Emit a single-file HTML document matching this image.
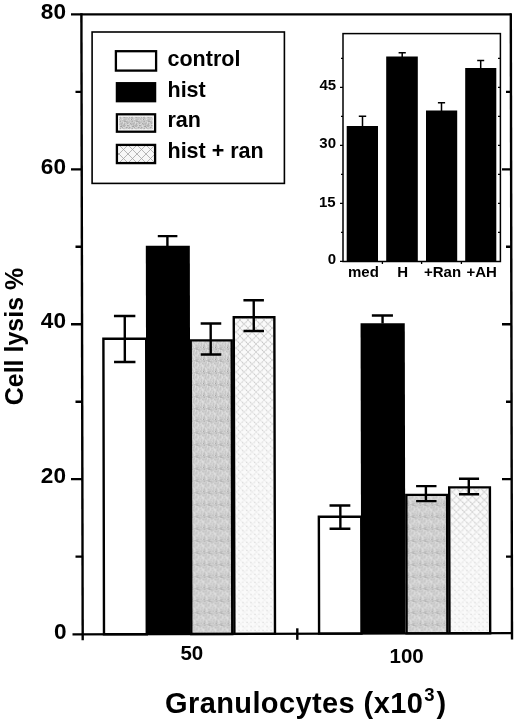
<!DOCTYPE html>
<html>
<head>
<meta charset="utf-8">
<style>
html,body{margin:0;padding:0;background:#fff;}
body{width:520px;height:726px;overflow:hidden;}
svg{display:block;filter:blur(0.35px);}
text{font-family:"Liberation Sans",sans-serif;font-weight:bold;fill:#000;}
</style>
</head>
<body>
<svg width="520" height="726" viewBox="0 0 520 726">
<defs>
  <pattern id="hatch" patternUnits="userSpaceOnUse" width="8" height="8">
    <rect width="8" height="8" fill="#fafafa"/>
    <rect x="2" y="2" width="1" height="1" fill="#cfcfcf"/>
    <rect x="6" y="6" width="1" height="1" fill="#cfcfcf"/>
    <rect x="6" y="2" width="1" height="1" fill="#e2e2e2"/>
    <rect x="2" y="6" width="1" height="1" fill="#e2e2e2"/>
  </pattern>
  <pattern id="xh" patternUnits="userSpaceOnUse" width="8" height="8">
    <path d="M0,8 L8,0 M0,0 L8,8" stroke="#b8b8b8" stroke-width="0.7"/>
  </pattern>
  <pattern id="xh2" patternUnits="userSpaceOnUse" width="9" height="9" x="2" y="1">
    <rect width="9" height="9" fill="#f7f7f7"/>
    <path d="M0,9 L9,0 M0,0 L9,9" stroke="#a4a4a4" stroke-width="0.8"/>
  </pattern>
  <linearGradient id="fadeG" x1="0" y1="0" x2="0" y2="1">
    <stop offset="0" stop-color="#fff"/>
    <stop offset="0.45" stop-color="#555"/>
    <stop offset="1" stop-color="#222"/>
  </linearGradient>
  <mask id="fade" maskContentUnits="objectBoundingBox"><rect width="1" height="1" fill="url(#fadeG)"/></mask>
  <pattern id="gray" patternUnits="userSpaceOnUse" width="12" height="12"><rect x="0" y="0" width="1" height="1" fill="#c1c1c1"/><rect x="1" y="0" width="1" height="1" fill="#cccccc"/><rect x="2" y="0" width="1" height="1" fill="#c1c1c1"/><rect x="3" y="0" width="1" height="1" fill="#c0c0c0"/><rect x="4" y="0" width="1" height="1" fill="#b7b7b7"/><rect x="5" y="0" width="1" height="1" fill="#c1c1c1"/><rect x="6" y="0" width="1" height="1" fill="#d5d5d5"/><rect x="7" y="0" width="1" height="1" fill="#cbcbcb"/><rect x="8" y="0" width="1" height="1" fill="#d4d4d4"/><rect x="9" y="0" width="1" height="1" fill="#c8c8c8"/><rect x="10" y="0" width="1" height="1" fill="#cacaca"/><rect x="11" y="0" width="1" height="1" fill="#c7c7c7"/><rect x="0" y="1" width="1" height="1" fill="#acacac"/><rect x="1" y="1" width="1" height="1" fill="#d1d1d1"/><rect x="2" y="1" width="1" height="1" fill="#cccccc"/><rect x="3" y="1" width="1" height="1" fill="#cccccc"/><rect x="4" y="1" width="1" height="1" fill="#ababab"/><rect x="5" y="1" width="1" height="1" fill="#aaaaaa"/><rect x="6" y="1" width="1" height="1" fill="#b7b7b7"/><rect x="7" y="1" width="1" height="1" fill="#bdbdbd"/><rect x="8" y="1" width="1" height="1" fill="#c9c9c9"/><rect x="9" y="1" width="1" height="1" fill="#c4c4c4"/><rect x="10" y="1" width="1" height="1" fill="#cccccc"/><rect x="11" y="1" width="1" height="1" fill="#bbbbbb"/><rect x="0" y="2" width="1" height="1" fill="#c9c9c9"/><rect x="1" y="2" width="1" height="1" fill="#cacaca"/><rect x="2" y="2" width="1" height="1" fill="#bbbbbb"/><rect x="3" y="2" width="1" height="1" fill="#dedede"/><rect x="4" y="2" width="1" height="1" fill="#cdcdcd"/><rect x="5" y="2" width="1" height="1" fill="#d6d6d6"/><rect x="6" y="2" width="1" height="1" fill="#bbbbbb"/><rect x="7" y="2" width="1" height="1" fill="#b9b9b9"/><rect x="8" y="2" width="1" height="1" fill="#bfbfbf"/><rect x="9" y="2" width="1" height="1" fill="#c3c3c3"/><rect x="10" y="2" width="1" height="1" fill="#cecece"/><rect x="11" y="2" width="1" height="1" fill="#c8c8c8"/><rect x="0" y="3" width="1" height="1" fill="#bebebe"/><rect x="1" y="3" width="1" height="1" fill="#b6b6b6"/><rect x="2" y="3" width="1" height="1" fill="#bdbdbd"/><rect x="3" y="3" width="1" height="1" fill="#d7d7d7"/><rect x="4" y="3" width="1" height="1" fill="#b8b8b8"/><rect x="5" y="3" width="1" height="1" fill="#c8c8c8"/><rect x="6" y="3" width="1" height="1" fill="#cbcbcb"/><rect x="7" y="3" width="1" height="1" fill="#aeaeae"/><rect x="8" y="3" width="1" height="1" fill="#c5c5c5"/><rect x="9" y="3" width="1" height="1" fill="#d8d8d8"/><rect x="10" y="3" width="1" height="1" fill="#a6a6a6"/><rect x="11" y="3" width="1" height="1" fill="#c0c0c0"/><rect x="0" y="4" width="1" height="1" fill="#c3c3c3"/><rect x="1" y="4" width="1" height="1" fill="#b8b8b8"/><rect x="2" y="4" width="1" height="1" fill="#cccccc"/><rect x="3" y="4" width="1" height="1" fill="#c4c4c4"/><rect x="4" y="4" width="1" height="1" fill="#afafaf"/><rect x="5" y="4" width="1" height="1" fill="#d1d1d1"/><rect x="6" y="4" width="1" height="1" fill="#cfcfcf"/><rect x="7" y="4" width="1" height="1" fill="#d3d3d3"/><rect x="8" y="4" width="1" height="1" fill="#dadada"/><rect x="9" y="4" width="1" height="1" fill="#cacaca"/><rect x="10" y="4" width="1" height="1" fill="#c6c6c6"/><rect x="11" y="4" width="1" height="1" fill="#b1b1b1"/><rect x="0" y="5" width="1" height="1" fill="#cecece"/><rect x="1" y="5" width="1" height="1" fill="#bbbbbb"/><rect x="2" y="5" width="1" height="1" fill="#bebebe"/><rect x="3" y="5" width="1" height="1" fill="#b2b2b2"/><rect x="4" y="5" width="1" height="1" fill="#b6b6b6"/><rect x="5" y="5" width="1" height="1" fill="#bdbdbd"/><rect x="6" y="5" width="1" height="1" fill="#d8d8d8"/><rect x="7" y="5" width="1" height="1" fill="#a6a6a6"/><rect x="8" y="5" width="1" height="1" fill="#afafaf"/><rect x="9" y="5" width="1" height="1" fill="#c8c8c8"/><rect x="10" y="5" width="1" height="1" fill="#dadada"/><rect x="11" y="5" width="1" height="1" fill="#cdcdcd"/><rect x="0" y="6" width="1" height="1" fill="#a8a8a8"/><rect x="1" y="6" width="1" height="1" fill="#9f9f9f"/><rect x="2" y="6" width="1" height="1" fill="#cacaca"/><rect x="3" y="6" width="1" height="1" fill="#b9b9b9"/><rect x="4" y="6" width="1" height="1" fill="#b4b4b4"/><rect x="5" y="6" width="1" height="1" fill="#d3d3d3"/><rect x="6" y="6" width="1" height="1" fill="#d5d5d5"/><rect x="7" y="6" width="1" height="1" fill="#c7c7c7"/><rect x="8" y="6" width="1" height="1" fill="#c8c8c8"/><rect x="9" y="6" width="1" height="1" fill="#cbcbcb"/><rect x="10" y="6" width="1" height="1" fill="#dcdcdc"/><rect x="11" y="6" width="1" height="1" fill="#cecece"/><rect x="0" y="7" width="1" height="1" fill="#cccccc"/><rect x="1" y="7" width="1" height="1" fill="#cdcdcd"/><rect x="2" y="7" width="1" height="1" fill="#adadad"/><rect x="3" y="7" width="1" height="1" fill="#d8d8d8"/><rect x="4" y="7" width="1" height="1" fill="#d3d3d3"/><rect x="5" y="7" width="1" height="1" fill="#cccccc"/><rect x="6" y="7" width="1" height="1" fill="#a7a7a7"/><rect x="7" y="7" width="1" height="1" fill="#bbbbbb"/><rect x="8" y="7" width="1" height="1" fill="#d1d1d1"/><rect x="9" y="7" width="1" height="1" fill="#a9a9a9"/><rect x="10" y="7" width="1" height="1" fill="#c2c2c2"/><rect x="11" y="7" width="1" height="1" fill="#d4d4d4"/><rect x="0" y="8" width="1" height="1" fill="#b1b1b1"/><rect x="1" y="8" width="1" height="1" fill="#dddddd"/><rect x="2" y="8" width="1" height="1" fill="#cdcdcd"/><rect x="3" y="8" width="1" height="1" fill="#c2c2c2"/><rect x="4" y="8" width="1" height="1" fill="#c9c9c9"/><rect x="5" y="8" width="1" height="1" fill="#cecece"/><rect x="6" y="8" width="1" height="1" fill="#c6c6c6"/><rect x="7" y="8" width="1" height="1" fill="#d6d6d6"/><rect x="8" y="8" width="1" height="1" fill="#bbbbbb"/><rect x="9" y="8" width="1" height="1" fill="#bebebe"/><rect x="10" y="8" width="1" height="1" fill="#d4d4d4"/><rect x="11" y="8" width="1" height="1" fill="#c5c5c5"/><rect x="0" y="9" width="1" height="1" fill="#b7b7b7"/><rect x="1" y="9" width="1" height="1" fill="#d3d3d3"/><rect x="2" y="9" width="1" height="1" fill="#dadada"/><rect x="3" y="9" width="1" height="1" fill="#bebebe"/><rect x="4" y="9" width="1" height="1" fill="#b0b0b0"/><rect x="5" y="9" width="1" height="1" fill="#c2c2c2"/><rect x="6" y="9" width="1" height="1" fill="#c2c2c2"/><rect x="7" y="9" width="1" height="1" fill="#c0c0c0"/><rect x="8" y="9" width="1" height="1" fill="#dadada"/><rect x="9" y="9" width="1" height="1" fill="#b5b5b5"/><rect x="10" y="9" width="1" height="1" fill="#d7d7d7"/><rect x="11" y="9" width="1" height="1" fill="#b1b1b1"/><rect x="0" y="10" width="1" height="1" fill="#b9b9b9"/><rect x="1" y="10" width="1" height="1" fill="#cecece"/><rect x="2" y="10" width="1" height="1" fill="#d5d5d5"/><rect x="3" y="10" width="1" height="1" fill="#d1d1d1"/><rect x="4" y="10" width="1" height="1" fill="#cacaca"/><rect x="5" y="10" width="1" height="1" fill="#c7c7c7"/><rect x="6" y="10" width="1" height="1" fill="#c7c7c7"/><rect x="7" y="10" width="1" height="1" fill="#cdcdcd"/><rect x="8" y="10" width="1" height="1" fill="#c2c2c2"/><rect x="9" y="10" width="1" height="1" fill="#c9c9c9"/><rect x="10" y="10" width="1" height="1" fill="#cdcdcd"/><rect x="11" y="10" width="1" height="1" fill="#c5c5c5"/><rect x="0" y="11" width="1" height="1" fill="#d0d0d0"/><rect x="1" y="11" width="1" height="1" fill="#cdcdcd"/><rect x="2" y="11" width="1" height="1" fill="#e3e3e3"/><rect x="3" y="11" width="1" height="1" fill="#c9c9c9"/><rect x="4" y="11" width="1" height="1" fill="#bebebe"/><rect x="5" y="11" width="1" height="1" fill="#bfbfbf"/><rect x="6" y="11" width="1" height="1" fill="#c4c4c4"/><rect x="7" y="11" width="1" height="1" fill="#d2d2d2"/><rect x="8" y="11" width="1" height="1" fill="#bfbfbf"/><rect x="9" y="11" width="1" height="1" fill="#cacaca"/><rect x="10" y="11" width="1" height="1" fill="#e0e0e0"/><rect x="11" y="11" width="1" height="1" fill="#9e9e9e"/></pattern>
</defs>

<!-- ===== MAIN CHART ===== -->
<g stroke="#000" stroke-width="2.4" fill="none">
  <g transform="matrix(1 0 0.002 1 -0.68 0)">
  <!-- bars group 50 -->
  <rect x="103.4" y="338.8" width="42.8" height="295.5" fill="#fff"/>
  <rect x="146" y="245.8" width="44" height="388.4" fill="#000" stroke="none"/>
  <rect x="190.7" y="340.4" width="41" height="293.6" fill="url(#gray)"/>
  <rect x="233.8" y="317.2" width="40.6" height="316.7" fill="url(#hatch)"/>
  <rect x="235" y="318.4" width="38.2" height="314.3" fill="url(#xh)" stroke="none" mask="url(#fade)"/>
  <!-- bars group 100 -->
  <rect x="318.5" y="516.8" width="42.4" height="116.8" fill="#fff"/>
  <rect x="360.6" y="323.2" width="44.2" height="310.3" fill="#000" stroke="none"/>
  <rect x="406" y="494.9" width="40.8" height="138.5" fill="url(#gray)"/>
  <rect x="448.9" y="487.4" width="40.7" height="145.9" fill="url(#hatch)"/>
  <rect x="450.1" y="488.6" width="38.3" height="143.5" fill="url(#xh)" stroke="none" mask="url(#fade)"/>

  <!-- error bars -->
  <path d="M124.8,316 V362 M114,316 H135.4 M114,362 H135.4"/>
  <path d="M167.6,236.1 V246 M158,236.1 H177.6"/>
  <path d="M210.7,323.5 V354.5 M200.7,323.5 H221.3 M200.7,354.5 H221.3"/>
  <path d="M253.8,300.3 V331 M243.5,300.3 H264 M243.5,331 H264"/>
  <path d="M340,505.5 V528.8 M329.2,505.5 H350 M329.2,528.8 H350"/>
  <path d="M382.6,315.5 V323.5 M371.9,315.5 H393"/>
  <path d="M425.6,486.1 V501.1 M415.8,486.1 H436.2 M415.8,501.1 H436.2"/>
  <path d="M468.5,478.8 V494.2 M458.7,478.8 H478.8 M458.7,494.2 H478.8"/>

  </g>
  <!-- frame -->
  <path d="M71,14.4 H511" />
  <path d="M81.4,13.2 L82.7,640.3" />
  <path d="M510.8,13.2 L512,639.5" />
  <path d="M72.5,634.4 L512,633.1" />
  <!-- left ticks major -->
  <path d="M71,169.4 H81.6 M71,324.2 H81.9 M71,479.1 H82.2"/>
  <!-- left ticks minor -->
  <path d="M75.5,91.9 H81.5 M75.5,246.8 H81.8 M75.5,401.7 H82 M75.5,556.6 H82.4"/>
  <!-- right ticks major -->
  <path d="M502,169.4 H511 M502,324.2 H511.3 M502,479.1 H511.6"/>
  <!-- right ticks minor -->
  <path d="M506,91.9 H511 M506,246.8 H511.2 M506,401.7 H511.5 M506,556.6 H511.8"/>
  <!-- x tick middle -->
  <path d="M297.3,628.3 V639.8"/>
</g>

<!-- y labels -->
<g font-size="22.6" text-anchor="end">
  <text x="66" y="18.6">80</text>
  <text x="66" y="173.8">60</text>
  <text x="66" y="328">40</text>
  <text x="66" y="483">20</text>
  <text x="66.5" y="638.5">0</text>
</g>
<!-- x labels -->
<text x="191.8" y="659.6" font-size="20.5" text-anchor="middle">50</text>
<text x="406.6" y="663" font-size="20.5" text-anchor="middle">100</text>

<!-- axis titles -->
<text x="165" y="712.8" font-size="29" letter-spacing="0.4">Granulocytes (x10<tspan font-size="18.5" dy="-12" dx="1">3</tspan><tspan dy="12" dx="1.5">)</tspan></text>
<text transform="translate(22.5,405.3) rotate(-90)" x="0" y="0" font-size="25">Cell lysis %</text>

<!-- ===== LEGEND ===== -->
<rect x="92.1" y="32" width="192.3" height="151.4" fill="#fff" stroke="#000" stroke-width="1.6"/>
<g stroke="#000" stroke-width="2.3">
  <rect x="115.9" y="51.2" width="40.2" height="19.4" fill="#fff"/>
  <rect x="116.9" y="83.2" width="38.2" height="18" fill="#000"/>
  <rect x="116.9" y="114.3" width="38.2" height="17.4" fill="#fff"/>
  <rect x="119.3" y="116.7" width="33.4" height="12.6" fill="url(#gray)" stroke="none"/>
  <rect x="116.9" y="144.9" width="38.2" height="18.2" fill="url(#xh2)"/>
</g>
<g font-size="21.5">
  <text x="167.5" y="65.6">control</text>
  <text x="167.5" y="96.5">hist</text>
  <text x="167.5" y="127.4">ran</text>
  <text x="167.5" y="158.3">hist + ran</text>
</g>

<!-- ===== INSET ===== -->
<g stroke="#000" fill="none">
  <rect x="343" y="33.6" width="157.4" height="227.9" fill="#fff" stroke-width="1.5"/>
  <g fill="#000" stroke="none">
    <rect x="346.7" y="126" width="31.3" height="135"/>
    <rect x="386.2" y="56.5" width="31.6" height="205"/>
    <rect x="426" y="110.5" width="31.2" height="151"/>
    <rect x="465.2" y="68" width="31.1" height="193"/>
  </g>
  <g stroke-width="1.5">
    <path d="M362.5,116.3 V126 M358.8,116.3 H366.2"/>
    <path d="M402.2,52.7 V57 M398.6,52.7 H405.8"/>
    <path d="M441.5,102.7 V111 M437.9,102.7 H445.1"/>
    <path d="M480.7,60.4 V68.5 M477.2,60.4 H484.2"/>
  </g>
  <g stroke-width="1.3">
    <path d="M340,87.3 H343 M340,145.3 H343 M340,203.3 H343 M340,261.3 H343"/>
    <path d="M341,58.3 H343 M341,116.3 H343 M341,174.3 H343 M341,232.3 H343"/>
    <path d="M498,58.3 H500.4 M498,87.3 H500.4 M498,116.3 H500.4 M498,145.3 H500.4 M498,174.3 H500.4 M498,203.3 H500.4 M498,232.3 H500.4"/>
    <path d="M382.4,261.5 V264 M421.6,261.5 V264 M461.4,261.5 V264"/>
  </g>
</g>
<g font-size="15" text-anchor="end">
  <text x="336.2" y="90.3">45</text>
  <text x="336" y="148.4">30</text>
  <text x="335.6" y="206.5">15</text>
  <text x="336" y="264.2">0</text>
</g>
<g font-size="15" text-anchor="middle">
  <text x="363.4" y="276.8">med</text>
  <text x="402.7" y="276.8">H</text>
  <text x="442.6" y="276.8">+Ran</text>
  <text x="481.6" y="276.8">+AH</text>
</g>
</svg>
</body>
</html>
